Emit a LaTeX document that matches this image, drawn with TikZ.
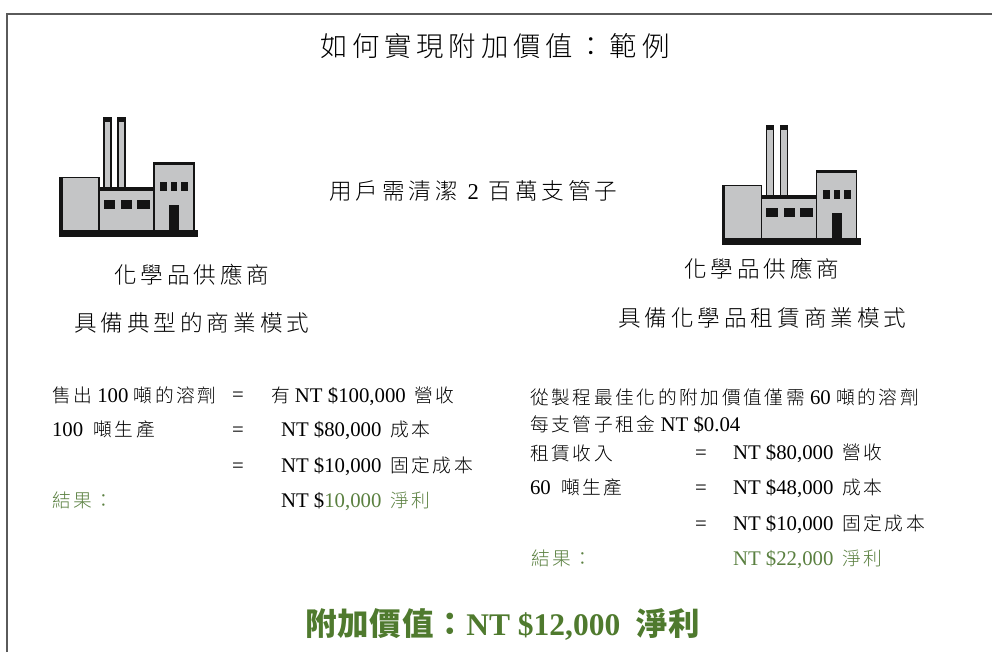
\documentclass[tikz,border=0pt]{standalone}
\usepackage{fontspec}
\setmainfont{Liberation Serif}
\newfontfamily\cjkfont[LetterSpace=17.6]{Noto Sans CJK TC Light}
\newfontfamily\cjkbody[LetterSpace=14,Scale=0.9]{Noto Sans CJK TC Light}
\newfontfamily\cjkbold[LetterSpace=3]{Noto Sans CJK TC Bold}
\newcommand{\C}[1]{{\cjkfont #1}}
\newcommand{\D}[1]{{\cjkbody #1}}
\newcommand{\DS}[1]{\hspace{3.5pt}{\cjkbody #1}}
\newcommand{\CB}[1]{{\cjkbold #1}}
\newcommand{\fc}{\char"FF1A\relax}
\definecolor{framegray}{HTML}{5A5A5A}
\definecolor{wallgray}{HTML}{C4C5C6}
\definecolor{inkblack}{HTML}{141414}
\definecolor{resultgreen}{HTML}{5A8040}
\definecolor{bigreen}{HTML}{4F7A2E}
\tikzset{
  txt/.style={anchor=base west,inner sep=0pt,outer sep=0pt,text=black},
  body/.style={txt,font=\fontsize{20.8}{20.8}\selectfont},
  result/.style={body,text=resultgreen},
  heading/.style={txt,font=\fontsize{22.6}{22.6}\selectfont},
  titletxt/.style={txt,font=\fontsize{27.4}{27.4}\selectfont},
  bigtxt/.style={txt,font=\bfseries\fontsize{31.5}{31.5}\selectfont,text=bigreen},
  wall/.style={fill=wallgray,draw=inkblack,line width=1.5pt},
  solidblack/.style={fill=inkblack,draw=none},
  factory/.pic={
    % chimneys
    \path[wall] (104.2,118) rectangle (110.8,188);
    \path[wall] (118.2,118) rectangle (124.8,188);
    \path[solidblack] (103.5,118) rectangle (111.5,122.5);
    \path[solidblack] (117.5,118) rectangle (125.5,122.5);
    % buildings
    \path[wall] (60.5,177.5) rectangle (99,231);
    \path[solidblack] (59,177) rectangle (62.5,231);
    \path[wall] (99,188) rectangle (154,231);
    \path[solidblack] (99,187) rectangle (154,191);
    \path[wall] (154,163) rectangle (194,231);
    \path[solidblack] (153.5,162) rectangle (194.5,165.5);
    % windows
    \path[solidblack] (103.5,200) rectangle (115,209);
    \path[solidblack] (121,200) rectangle (132,209);
    \path[solidblack] (137,200) rectangle (150,209);
    \path[solidblack] (160,182) rectangle (167,191);
    \path[solidblack] (171,182) rectangle (177,191);
    \path[solidblack] (181,182) rectangle (188,191);
    % door and base
    \path[solidblack] (169,205) rectangle (179,231);
    \path[solidblack] (59,230) rectangle (198,237);
  }
}
\begin{document}
\begin{tikzpicture}[x=1pt,y=-1pt]
\useasboundingbox (0,0) rectangle (992,660);
\fill[white] (0,0) rectangle (992,660);
\draw[framegray,line width=2.2pt] (7,652) -- (7,14) -- (992,14);

\pic (leftfactory) at (0,0) {factory};
\pic (rightfactory) at (662.5,8) {factory};

\node[titletxt] (title) at (320,57) {\C{如何實現附加價值\fc 範例}};
\node[heading] (need) at (329,200) {\C{用戶需清潔}\hspace{4pt} 2 \hspace{4pt}\C{百萬支管子}};

\node[heading] (lh1) at (114,283) {\C{化學品供應商}};
\node[heading] (lh2) at (74,331) {\C{具備典型的商業模式}};
\node[heading] (rh1) at (684,277) {\C{化學品供應商}};
\node[heading] (rh2) at (618,326) {\C{具備化學品租賃商業模式}};

\node[body] (l1a) at (52,402) {\D{售出} 100 \D{噸的溶劑}};
\node[body] (l1b) at (232,401) {=};
\node[body] (l1c) at (271,402) {\D{有} NT \$100,000 \DS{營收}};
\node[body] (l2a) at (52,436) {100 \ \D{噸生產}};
\node[body] (l2b) at (232,436) {=};
\node[body] (l2c) at (281,436) {NT \$80,000 \DS{成本}};
\node[body] (l3b) at (232,472) {=};
\node[body] (l3c) at (281,472) {NT \$10,000 \DS{固定成本}};
\node[result] (l4a) at (52,507) {\D{結果\fc}};
\node[body] (l4c) at (281,507) {NT \$\textcolor{resultgreen}{10,000 \DS{淨利}}};

\node[body] (r1) at (530,404) {\D{從製程最佳化的附加價值僅需} 60 \D{噸的溶劑}};
\node[body] (r2) at (530,431) {\D{每支管子租金} NT \$0.04};
\node[body] (r3a) at (530,460) {\D{租賃收入}};
\node[body] (r3b) at (695,459) {=};
\node[body] (r3c) at (733,459) {NT \$80,000 \DS{營收}};
\node[body] (r4a) at (530,494) {60 \ \D{噸生產}};
\node[body] (r4b) at (695,494) {=};
\node[body] (r4c) at (733,494) {NT \$48,000 \DS{成本}};
\node[body] (r5b) at (695,530) {=};
\node[body] (r5c) at (733,530) {NT \$10,000 \DS{固定成本}};
\node[result] (r6a) at (531,565) {\D{結果\fc}};
\node[result] (r6c) at (733,565) {NT \$22,000 \DS{淨利}};

\node[bigtxt] (value) at (305,635) {\CB{附加價值\fc}NT \$12,000 \ \CB{淨利}};
\end{tikzpicture}
\end{document}
